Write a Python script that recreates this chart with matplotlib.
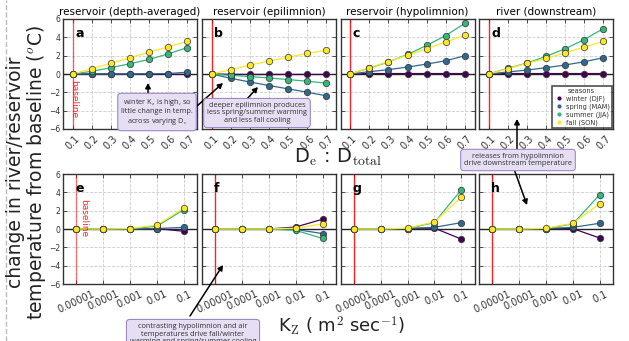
import matplotlib
matplotlib.use("Agg")
import matplotlib.pyplot as plt
from matplotlib.lines import Line2D
import numpy as np

plt.rcParams['mathtext.fontset'] = 'cm'
plt.rcParams['font.family'] = ['DejaVu Sans']

# ---------------- data ----------------
seasons = ['winter (DJF)', 'spring (MAM)', 'summer (JJA)', 'fall (SON)']
season_colors = ['#440154', '#31688e', '#35b779', '#fde725']

de_ratio = [0.1, 0.2, 0.3, 0.4, 0.5, 0.6, 0.7]
de_labels = ['0.1', '0.2', '0.3', '0.4', '0.5', '0.6', '0.7']
kz = [0.00001, 0.0001, 0.001, 0.01, 0.1]
kz_labels = ['0.00001', '0.0001', '0.001', '0.01', '0.1']

titles = ['reservoir (depth-averaged)', 'reservoir (epilimnion)',
          'reservoir (hypolimnion)', 'river (downstream)']
letters_top = ['a', 'b', 'c', 'd']
letters_bot = ['e', 'f', 'g', 'h']

# top row: varying De:Dtotal  [winter, spring, summer, fall]
de_avg = [[0, 0, 0, 0, 0, -0.02, -0.05],
          [0, 0, 0, 0, 0.02, 0.05, 0.2],
          [0, 0.29, 0.69, 1.12, 1.59, 2.2, 2.89],
          [0, 0.58, 1.16, 1.77, 2.38, 2.96, 3.57]]
de_epi = [[0, -0.05, -0.05, -0.05, -0.05, -0.05, -0.05],
          [0, -0.47, -0.87, -1.26, -1.62, -1.99, -2.38],
          [0, -0.14, -0.29, -0.43, -0.61, -0.79, -1.0],
          [0, 0.47, 0.97, 1.41, 1.84, 2.24, 2.57]]
de_hypo = [[0, 0.05, 0.05, 0.05, 0.05, 0.05, 0.05],
           [0, 0.25, 0.47, 0.76, 1.08, 1.45, 1.99],
           [0, 0.65, 1.3, 2.14, 3.11, 4.2, 5.53],
           [0, 0.69, 1.34, 2.06, 2.75, 3.51, 4.23]]
de_river = [[0, 0.05, 0.05, 0.05, 0.05, 0.05, 0.05],
            [0, 0.22, 0.43, 0.69, 0.98, 1.34, 1.78],
            [0, 0.62, 1.19, 1.92, 2.75, 3.76, 4.96],
            [0, 0.58, 1.16, 1.7, 2.32, 2.93, 3.55]]

# bottom row: varying Kz
kz_avg = [[0, 0, 0, 0.05, -0.25],
          [0, 0, 0, 0.05, 0.18],
          [0, 0, 0.02, 0.3, 2.1],
          [0, 0, 0.05, 0.43, 2.25]]
kz_epi = [[0, 0, 0, 0.22, 1.07],
          [0, 0, 0, -0.05, -0.5],
          [0, 0, 0, -0.15, -1.03],
          [0, 0, 0, 0.1, 0.55]]
kz_hypo = [[0, 0, 0.05, 0.1, -1.09],
           [0, 0, 0.05, 0.18, 0.69],
           [0, 0, 0.05, 0.7, 4.24],
           [0, 0, 0.1, 0.76, 3.45]]
kz_river = [[0, 0, 0.05, 0.05, -0.98],
            [0, 0, 0.05, 0.18, 0.62],
            [0, 0, 0.05, 0.55, 3.73],
            [0, 0, 0.08, 0.62, 2.75]]

top_data = [de_avg, de_epi, de_hypo, de_river]
bot_data = [kz_avg, kz_epi, kz_hypo, kz_river]

# ---------------- figure ----------------
W, H = 629, 341
fig = plt.figure(figsize=(W / 100, H / 100), dpi=100)

def px_axes(x0, y0, w, h):
    return fig.add_axes([x0 / W, 1 - (y0 + h) / H, w / W, h / H])

lefts = [63, 202, 340.5, 479]
pw = 134

def style_ax(ax, show_ylab):
    ax.set_ylim(-6, 6)
    ax.set_yticks([-6, -4, -2, 0, 2, 4, 6])
    ax.grid(True, ls='--', color='#cccccc', lw=0.6)
    ax.set_axisbelow(True)
    ax.tick_params(axis='both', direction='in', length=3, width=0.6,
                   top=True, right=True, labelsize=5.5, colors='#333333')
    ax.tick_params(axis='y', labelleft=show_ylab, pad=2)
    for sp in ax.spines.values():
        sp.set_color('#333333')
        sp.set_linewidth(1.0)
    ax.axhline(0, color='#222222', lw=1.0, zorder=1.5)

def plot_series(ax, x, data):
    for vals, c in zip(data, season_colors):
        ax.plot(x, vals, '-o', color=c, lw=0.9, ms=4.6, mec='#333333',
                mew=0.5, zorder=3)

top_axes = []
for i in range(4):
    ax = px_axes(lefts[i], 19, pw, 110)
    style_ax(ax, i == 0)
    ax.set_xlim(0.05, 0.75)
    ax.set_xticks(de_ratio)
    ax.set_xticklabels(de_labels, rotation=45, fontsize=7, ha='center')
    ax.axvline(de_ratio[0], color='red', lw=1.0,
               alpha=0.6 if i == 0 else 0.85, zorder=2)
    plot_series(ax, de_ratio, top_data[i])
    ax.set_title(titles[i], fontsize=7.5, pad=3)
    ax.text(0.09, 0.93, letters_top[i], transform=ax.transAxes,
            fontsize=9, fontweight='bold', va='top', ha='left')
    top_axes.append(ax)

bot_axes = []
for i in range(4):
    ax = px_axes(lefts[i], 174, pw, 110)
    style_ax(ax, i == 0)
    ax.set_xscale('log')
    ax.set_xlim(10 ** -5.5, 10 ** -0.5)
    ax.minorticks_off()
    ax.set_xticks(kz)
    ax.set_xticklabels(kz_labels, rotation=25, fontsize=7, ha='center')
    ax.axvline(kz[0], color='red', lw=1.0,
               alpha=0.5 if i == 0 else 0.85, zorder=2)
    plot_series(ax, kz, bot_data[i])
    ax.text(0.09, 0.93, letters_bot[i], transform=ax.transAxes,
            fontsize=9, fontweight='bold', va='top', ha='left')
    bot_axes.append(ax)

# baseline labels
top_axes[0].text(0.083, -0.7, 'baseline', rotation=270, color='red',
                 fontsize=6.5, va='top', ha='left', alpha=0.85)
bot_axes[0].text(1.28e-5, 3.3, 'baseline', rotation=270, color='red',
                 fontsize=6.5, va='top', ha='left', alpha=0.85)

# legend
handles = [Line2D([], [], marker='o', ls='', color=c, ms=2.0, mec=c)
           for c in season_colors]
leg = top_axes[3].legend(handles, seasons, title='seasons', loc='lower right',
                         fontsize=4.8, title_fontsize=4.8, frameon=True,
                         fancybox=False, borderpad=0.3, labelspacing=0.2,
                         handletextpad=0.2, handlelength=1.6,
                         borderaxespad=0.2, bbox_to_anchor=(1.0, 0.0))
leg.get_frame().set_edgecolor('#222222')
leg.get_frame().set_linewidth(1.2)
for t in leg.get_texts():
    t.set_color('#333333')
leg.get_title().set_color('#333333')

# axis labels
fig.text(27 / W, 1 - 172 / H,
         'change in river/reservoir\ntemperature from baseline ($^o$C)',
         rotation=90, ha='center', va='center', fontsize=13.5,
         linespacing=1.0, color='#222222')
fig.text(338 / W, 1 - 157 / H,
         r'D$_\mathrm{e}$ : D$_\mathrm{total}$', ha='center', va='center',
         fontsize=14, color='#222222')
fig.text(342 / W, 1 - 326 / H,
         r'K$_\mathrm{Z}$ ( m$^2$ sec$^{-1}$)', ha='center', va='center',
         fontsize=13, color='#222222')

# left dashed line
fig.add_artist(Line2D([6 / W, 6 / W], [0, 1], transform=fig.transFigure,
                      ls='--', color='#bbbbbb', lw=1.0))

# annotations
box = dict(boxstyle='round,pad=0.45', fc='#e6def3', ec='#9b88c8', lw=0.8)
afont = dict(fontsize=5.3, family=['Open Sans', 'DejaVu Sans'],
             color='#333333', ha='center', va='center', linespacing=1.15)

def fy(y):
    return 1 - y / H

def arrow(x0, y0, x1, y1):
    fig.add_artist(matplotlib.patches.FancyArrowPatch(
        (x0 / W, fy(y0)), (x1 / W, fy(y1)), transform=fig.transFigure,
        arrowstyle='-|>,head_length=3,head_width=1.6', color='black',
        lw=1.1, shrinkA=0, shrinkB=0, zorder=10))

arrow(148, 98, 148, 83)
arrow(197, 106, 223, 83)
arrow(246, 100, 258, 87)
arrow(517, 151, 517, 119)
arrow(514, 169, 527, 205)
arrow(190, 316, 223, 265)

fig.text(157 / W, fy(112),
         'winter K$_\\mathrm{z}$ is high, so\nlittle change in temp.\nacross varying D$_\\mathrm{e}$',
         bbox=box, zorder=11, **afont)
fig.text(257 / W, fy(113),
         'deeper epilimnion produces\nless spring/summer warming\nand less fall cooling',
         bbox=box, zorder=11, **afont)
fig.text(518 / W, fy(160),
         'releases from hypolimnion\ndrive downstream temperature',
         bbox=box, zorder=11, **afont)
fig.text(193 / W, fy(334),
         'contrasting hypolimnion and air\ntemperatures drive fall/winter\nwarming and spring/summer cooling',
         bbox=box, zorder=11, **afont)

fig.savefig('out.png', dpi=100)
